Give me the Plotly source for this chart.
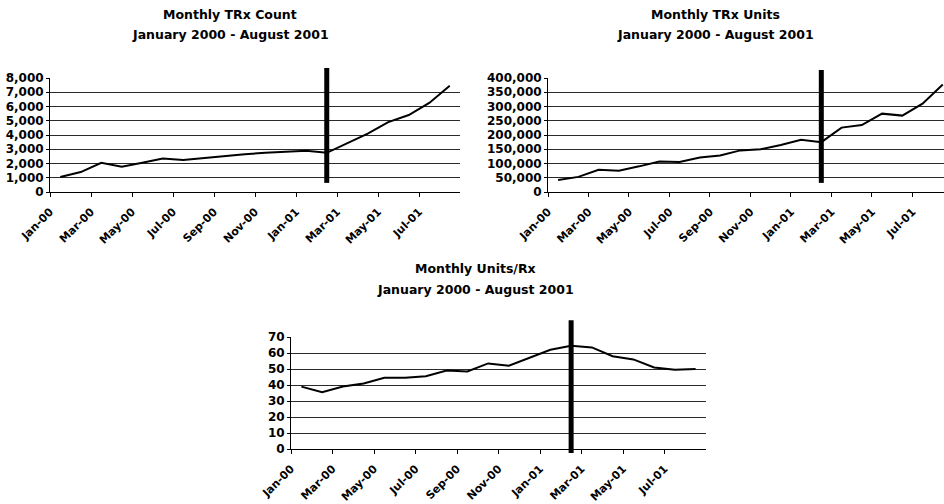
import plotly.graph_objects as go

months = ["Jan-00", "Feb-00", "Mar-00", "Apr-00", "May-00", "Jun-00", "Jul-00", "Aug-00",
          "Sep-00", "Oct-00", "Nov-00", "Dec-00", "Jan-01", "Feb-01", "Mar-01", "Apr-01",
          "May-01", "Jun-01", "Jul-01", "Aug-01"]

trx_count = [1050, 1400, 2050, 1780, 2050, 2350, 2250, 2400, 2550, 2650,
             2750, 2850, 2900, 2750, 3450, 4100, 4900, 5400, 6250, 7450]

trx_units = [42000, 53000, 78000, 75000, 90000, 107000, 105000, 121000, 128000, 146000,
             150000, 165000, 183000, 175000, 226000, 235000, 275000, 268000, 310000, 377000]

units_per_rx = [39, 35.5, 39, 41, 44.5, 44.5, 45.5, 49, 48.5, 53.5,
                52, 57, 62, 64.5, 63.5, 58, 56, 51, 49.5, 50]

event_month = "Feb-01"

titles = ["Monthly TRx Count", "Monthly TRx Units", "Monthly Units/Rx"]
subtitle = "January 2000 - August 2001"

W, H = 944, 504
FONT = "DejaVu Sans"

x_idx = list(range(len(months)))
tick_vals = [i - 0.5 for i in x_idx if i % 2 == 0]
tick_text = [months[i] for i in x_idx if i % 2 == 0]
event_x = months.index(event_month)


def fx(px):
    return px / W


def fy(py):
    return 1 - py / H


fig = go.Figure()

panels = [
    dict(y=trx_count, xa="x", ya="y", xd=(50, 460), yd=(192, 78), yr=[0, 8000], dt=1000,
         xr=[-0.5, 19.5], span=(0.08, 1.088), tx=230, ty=(14, 35)),
    dict(y=trx_units, xa="x2", ya="y2", xd=(548, 944), yd=(192, 78), yr=[0, 400000], dt=50000,
         xr=[-0.5, 19.06], span=(0.08, 1.07), tx=715, ty=(14, 35)),
    dict(y=units_per_rx, xa="x3", ya="y3", xd=(291, 706), yd=(449, 337), yr=[0, 70], dt=10,
         xr=[-0.5, 19.5], span=(-0.035, 1.15), tx=475, ty=(268, 289)),
]

ytick_font = dict(family=FONT, size=12, color="black", weight="bold")
xtick_font = dict(family=FONT, size=11, color="black", weight="bold")

for k, p in enumerate(panels):
    fig.add_trace(go.Scatter(x=x_idx, y=p["y"], mode="lines",
                             line=dict(color="black", width=2),
                             xaxis=p["xa"], yaxis=p["ya"], showlegend=False,
                             hoverinfo="skip"))
    xname = "xaxis" if k == 0 else f"xaxis{k+1}"
    yname = "yaxis" if k == 0 else f"yaxis{k+1}"
    fig.update_layout(**{
        xname: dict(domain=[fx(p["xd"][0]), fx(p["xd"][1])], range=p["xr"],
                    anchor=p["ya"], tickvals=tick_vals, ticktext=tick_text,
                    tickangle=-45, tickfont=xtick_font, showgrid=False, zeroline=False,
                    showline=True, linecolor="black", linewidth=1, automargin=False,
                    ticks="outside", ticklen=4, tickcolor="black", ticklabelstandoff=4),
        yname: dict(domain=[fy(p["yd"][0]), fy(p["yd"][1])], range=p["yr"],
                    anchor=p["xa"], dtick=p["dt"], tickformat=",", tickfont=ytick_font,
                    showgrid=True, gridcolor="#2a2a2a", gridwidth=1, zeroline=False,
                    showline=True, linecolor="black", linewidth=1, automargin=False,
                    ticks="outside", ticklen=3, tickcolor="black"),
    })
    fig.add_shape(type="line", xref=p["xa"], yref=f"{p['ya']} domain",
                  x0=event_x, x1=event_x, y0=p["span"][0], y1=p["span"][1],
                  line=dict(color="black", width=5), layer="above")
    fig.add_annotation(x=fx(p["tx"]), y=fy(p["ty"][0]), xref="paper", yref="paper",
                       text=titles[k], showarrow=False, xanchor="center", yanchor="middle",
                       font=dict(family=FONT, size=12.5, color="black", weight="bold"))
    fig.add_annotation(x=fx(p["tx"]), y=fy(p["ty"][1]), xref="paper", yref="paper",
                       text=subtitle, showarrow=False, xanchor="center", yanchor="middle",
                       font=dict(family=FONT, size=12.5, color="black", weight="bold"))

fig.update_layout(width=W, height=H, margin=dict(l=0, r=0, t=0, b=0, autoexpand=False),
                  paper_bgcolor="white", plot_bgcolor="white", showlegend=False)

fig.write_html("out.html")
